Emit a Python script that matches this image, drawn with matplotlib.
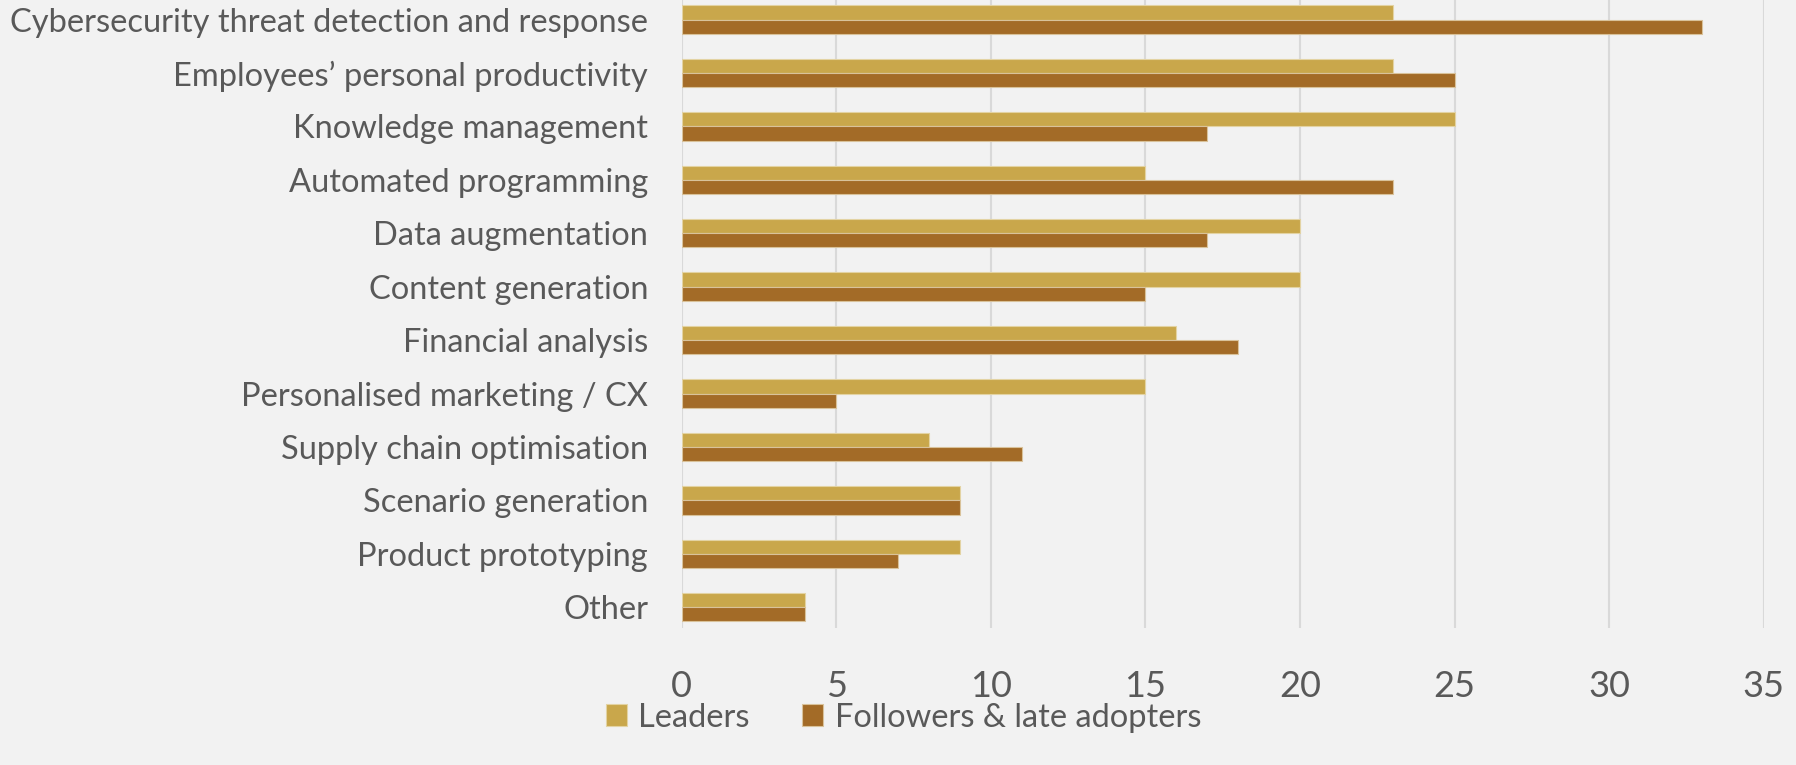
import matplotlib
matplotlib.use('Agg')
from matplotlib import pyplot as plt
import numpy as np

categorias = ['Cybersecurity threat detection and response',
              'Employees\u2019 personal productivity',
              'Knowledge management',
              'Automated programming',
              'Data augmentation',
              'Content generation',
              'Financial analysis',
              'Personalised marketing / CX',
              'Supply chain optimisation',
              'Scenario generation',
              'Product prototyping',
              'Other']
leaders = [23, 23, 25, 15, 20, 20, 16, 15, 8, 9, 9, 4]
followers = [33, 25, 17, 23, 17, 15, 18, 5, 11, 9, 7, 4]
ticks_x = [0, 5, 10, 15, 20, 25, 30, 35]

texto = '#595959'
fondo = '#F2F2F2'
plt.rcParams['font.family'] = ['Lato', 'DejaVu Sans']

fig = plt.figure(figsize=(17.96, 7.65), dpi=100)
fig.patch.set_facecolor(fondo)
ax = fig.add_axes([0.3795, 0.179, 0.6025, 0.821])
ax.set_facecolor(fondo)

n = len(categorias)
pos = np.arange(n)[::-1]
h = 0.265
ax.barh(pos + h / 2, leaders, height=h, color='#C9A74B', edgecolor='#E3D3A3',
        linewidth=0.8, label='Leaders', zorder=3)
ax.barh(pos - h / 2, followers, height=h, color='#A36B27', edgecolor='#D9C29A',
        linewidth=0.8, label='Followers & late adopters', zorder=3)

ax.set_xlim(0, 35)
ax.set_ylim(-0.39, n - 1 + 0.365)
ax.set_xticks(ticks_x)
ax.set_xticklabels([str(t) for t in ticks_x], fontsize=26, color=texto)
ax.set_yticks(pos)
ax.set_yticklabels(categorias, fontsize=23.5, color=texto)
ax.tick_params(axis='both', length=0)
ax.tick_params(axis='x', pad=30)
ax.tick_params(axis='y', pad=24)
ax.grid(axis='x', color='#D9D9D9', linewidth=1.5, zorder=0)
for s in ax.spines.values():
    s.set_visible(False)

fig.legend(loc='center', bbox_to_anchor=(0.503, 0.062), ncol=2, frameon=False,
           fontsize=23.5, labelcolor=texto, handlelength=0.65, handleheight=0.65,
           handletextpad=0.35, columnspacing=1.6)

fig.savefig('out.png', dpi=100, facecolor=fondo)
